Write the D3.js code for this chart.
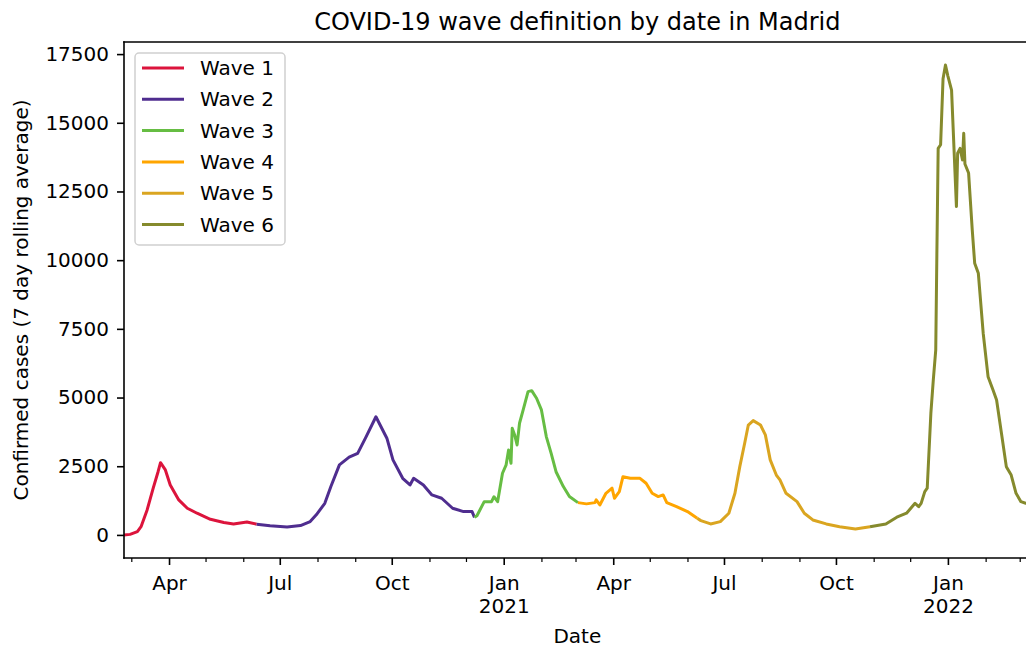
<!DOCTYPE html>
<html>
<head>
<meta charset="utf-8">
<script src="https://cdn.jsdelivr.net/npm/d3@7"></script>
<style>
  body { margin: 0; background: #fff; }
  svg { display: block; font-family: "DejaVu Sans", sans-serif; }
</style>
</head>
<body>
<svg id="chart" width="1026" height="649"></svg>
<script>
// Chart data (7 day rolling average)
const waveNames = ['Wave 1', 'Wave 2', 'Wave 3', 'Wave 4', 'Wave 5', 'Wave 6'];
const waveColors = ['#dc143c', '#4f2d8f', '#66bd43', '#ffa500', '#daa520', '#858a2d'];

const wave1 = [
    ['2020-02-24', 0], ['2020-02-29', 20], ['2020-03-06', 120], ['2020-03-09', 300],
    ['2020-03-14', 910], ['2020-03-19', 1700], ['2020-03-23', 2300], ['2020-03-25', 2630],
    ['2020-03-29', 2365], ['2020-04-02', 1820], ['2020-04-09', 1275], ['2020-04-16', 970],
    ['2020-04-24', 790], ['2020-05-05', 570], ['2020-05-16', 450], ['2020-05-24', 400],
    ['2020-06-04', 473], ['2020-06-12', 390]
];
const wave2 = [
    ['2020-06-12', 390], ['2020-06-23', 330], ['2020-07-07', 290], ['2020-07-18', 340],
    ['2020-07-26', 485], ['2020-07-31', 730], ['2020-08-07', 1150], ['2020-08-12', 1760],
    ['2020-08-19', 2550], ['2020-08-27', 2830], ['2020-09-03', 2970], ['2020-09-10', 3580],
    ['2020-09-18', 4300], ['2020-09-27', 3520], ['2020-10-02', 2730], ['2020-10-10', 2060],
    ['2020-10-16', 1820], ['2020-10-19', 2060], ['2020-10-27', 1820], ['2020-11-03', 1455],
    ['2020-11-11', 1335], ['2020-11-20', 970], ['2020-11-29', 850], ['2020-12-06', 850],
    ['2020-12-08', 640]
];
const wave3 = [
    ['2020-12-08', 640], ['2020-12-10', 700], ['2020-12-16', 1210], ['2020-12-22', 1210],
    ['2020-12-24', 1390], ['2020-12-27', 1210], ['2020-12-31', 2245], ['2021-01-03', 2550],
    ['2021-01-05', 3090], ['2021-01-07', 2610], ['2021-01-08', 3880], ['2021-01-10', 3640],
    ['2021-01-12', 3275], ['2021-01-14', 4065], ['2021-01-17', 4550], ['2021-01-21', 5215],
    ['2021-01-24', 5250], ['2021-01-28', 4975], ['2021-02-01', 4550], ['2021-02-05', 3580],
    ['2021-02-09', 2970], ['2021-02-13', 2300], ['2021-02-19', 1760], ['2021-02-24', 1395],
    ['2021-03-03', 1175]
];
const wave4 = [
    ['2021-03-03', 1175], ['2021-03-10', 1130], ['2021-03-17', 1175], ['2021-03-18', 1275],
    ['2021-03-21', 1090], ['2021-03-26', 1515], ['2021-03-31', 1700], ['2021-04-02', 1335],
    ['2021-04-06', 1575], ['2021-04-09', 2120], ['2021-04-15', 2060], ['2021-04-23', 2060],
    ['2021-04-28', 1880], ['2021-05-03', 1515], ['2021-05-08', 1395], ['2021-05-12', 1455],
    ['2021-05-15', 1175], ['2021-05-23', 1030], ['2021-06-01', 850], ['2021-06-09', 605]
];
const wave5 = [
    ['2021-06-09', 605], ['2021-06-12', 520], ['2021-06-20', 400], ['2021-06-28', 485],
    ['2021-07-05', 790], ['2021-07-10', 1515], ['2021-07-14', 2485], ['2021-07-18', 3335],
    ['2021-07-21', 4000], ['2021-07-25', 4160], ['2021-07-31', 4000], ['2021-08-04', 3640],
    ['2021-08-08', 2730], ['2021-08-13', 2180], ['2021-08-16', 2000], ['2021-08-21', 1515],
    ['2021-08-30', 1210], ['2021-09-05', 790], ['2021-09-12', 545], ['2021-09-23', 400],
    ['2021-10-04', 300], ['2021-10-17', 218], ['2021-10-29', 300]
];
const wave6 = [
    ['2021-10-29', 300], ['2021-11-11', 400], ['2021-11-20', 645], ['2021-11-28', 790],
    ['2021-12-05', 1150], ['2021-12-08', 1030], ['2021-12-10', 1150], ['2021-12-13', 1575],
    ['2021-12-15', 1700], ['2021-12-18', 4430], ['2021-12-20', 5640], ['2021-12-22', 6730],
    ['2021-12-23', 10500], ['2021-12-24', 14070], ['2021-12-26', 14200], ['2021-12-28', 16600],
    ['2021-12-30', 17100], ['2022-01-01', 16700], ['2022-01-04', 16190], ['2022-01-08', 11950],
    ['2022-01-09', 13890], ['2022-01-11', 14070], ['2022-01-13', 13650], ['2022-01-14', 14620],
    ['2022-01-15', 13500], ['2022-01-18', 13170], ['2022-01-21', 11100], ['2022-01-23', 9890],
    ['2022-01-26', 9520], ['2022-01-30', 7340], ['2022-02-03', 5760], ['2022-02-07', 5280],
    ['2022-02-10', 4910], ['2022-02-14', 3700], ['2022-02-18', 2485], ['2022-02-22', 2180],
    ['2022-02-26', 1515], ['2022-03-02', 1210], ['2022-03-06', 1150], ['2022-03-10', 1130]
];
const waves = [wave1, wave2, wave3, wave4, wave5, wave6];

// Axis ticks and ranges
const yTicks = [0, 2500, 5000, 7500, 10000, 12500, 15000, 17500];
const yDomain = [-840, 17940];
const xDomain = ['2020-02-24', '2022-03-10'];
const xMajorTicks = ['2020-04-01', '2020-07-01', '2020-10-01', '2021-01-01',
    '2021-04-01', '2021-07-01', '2021-10-01', '2022-01-01'];
const xMinorTicks = ['2020-03-01', '2020-05-01', '2020-06-01', '2020-08-01', '2020-09-01',
    '2020-11-01', '2020-12-01', '2021-02-01', '2021-03-01', '2021-05-01', '2021-06-01',
    '2021-08-01', '2021-09-01', '2021-11-01', '2021-12-01', '2022-02-01', '2022-03-01'];

const parseDate = d3.utcParse('%Y-%m-%d');

// Layout
const margin = { left: 124, top: 42, bottom: 558 };
const plotRight = 124 + 745 * 1.217;
const fontSize = 20;

const svg = d3.select('#chart');

const x = d3.scaleUtc()
    .domain(xDomain.map(parseDate))
    .range([margin.left, plotRight]);

const y = d3.scaleLinear()
    .domain(yDomain)
    .range([margin.bottom, margin.top]);

svg.append('defs').append('clipPath')
    .attr('id', 'plot-clip')
    .append('rect')
    .attr('x', margin.left)
    .attr('y', margin.top)
    .attr('width', plotRight - margin.left)
    .attr('height', margin.bottom - margin.top);

// Wave lines
const line = d3.line()
    .x(d => x(parseDate(d[0])))
    .y(d => y(d[1]));

svg.append('g')
    .attr('clip-path', 'url(#plot-clip)')
    .selectAll('path')
    .data(waves)
    .enter().append('path')
    .attr('d', line)
    .attr('fill', 'none')
    .attr('stroke', (d, i) => waveColors[i])
    .attr('stroke-width', 3)
    .attr('stroke-linejoin', 'round');

// Axes
const xAxis = svg.append('g')
    .attr('transform', `translate(0,${margin.bottom})`)
    .call(d3.axisBottom(x)
        .tickValues(xMajorTicks.map(parseDate))
        .tickSize(7)
        .tickPadding(11)
        .tickFormat(d3.utcFormat('%b')));

xAxis.selectAll('.tick')
    .filter(d => d.getUTCMonth() === 0)
    .select('text')
    .append('tspan')
    .attr('x', 0)
    .attr('dy', '1.15em')
    .text(d => d.getUTCFullYear());

svg.append('g')
    .attr('transform', `translate(0,${margin.bottom})`)
    .call(d3.axisBottom(x)
        .tickValues(xMinorTicks.map(parseDate))
        .tickSize(4)
        .tickFormat(''))
    .selectAll('line').attr('stroke-width', 1.2);

const yAxis = svg.append('g')
    .attr('transform', `translate(${margin.left},0)`)
    .call(d3.axisLeft(y)
        .tickValues(yTicks)
        .tickSize(7)
        .tickPadding(8)
        .tickFormat(d3.format('d')));

svg.selectAll('.domain').remove();
svg.selectAll('.tick line').filter(function () {
    return !this.getAttribute('stroke-width');
}).attr('stroke-width', 1.6);
svg.selectAll('.tick text')
    .attr('font-size', fontSize)
    .attr('font-family', '"DejaVu Sans", sans-serif')
    .attr('fill', '#000');
svg.selectAll('.tick line').attr('stroke', '#000');

// Spines (the right one falls just outside the picture)
const spines = svg.append('g')
    .attr('stroke', '#000')
    .attr('stroke-width', 1.6)
    .attr('stroke-linecap', 'square');
spines.append('line')
    .attr('x1', margin.left).attr('x2', margin.left)
    .attr('y1', margin.top).attr('y2', margin.bottom);
spines.append('line')
    .attr('x1', margin.left).attr('x2', plotRight)
    .attr('y1', margin.bottom).attr('y2', margin.bottom);
spines.append('line')
    .attr('x1', margin.left).attr('x2', plotRight)
    .attr('y1', margin.top).attr('y2', margin.top);
spines.append('line')
    .attr('x1', plotRight).attr('x2', plotRight)
    .attr('y1', margin.top).attr('y2', margin.bottom);

// Titles
const centerX = (margin.left + plotRight) / 2;
svg.append('text')
    .attr('x', centerX)
    .attr('y', 30)
    .attr('text-anchor', 'middle')
    .attr('font-size', 24)
    .text('COVID-19 wave definition by date in Madrid');

svg.append('text')
    .attr('x', centerX)
    .attr('y', 643)
    .attr('text-anchor', 'middle')
    .attr('font-size', fontSize)
    .text('Date');

svg.append('text')
    .attr('transform', `translate(28,${(margin.top + margin.bottom) / 2}) rotate(-90)`)
    .attr('text-anchor', 'middle')
    .attr('font-size', fontSize)
    .text('Confirmed cases (7 day rolling average)');

// Legend
const legend = svg.append('g').attr('transform', 'translate(135,53)');
legend.append('rect')
    .attr('width', 150)
    .attr('height', 192)
    .attr('rx', 4)
    .attr('fill', '#fff')
    .attr('fill-opacity', 0.8)
    .attr('stroke', '#d0d0d0')
    .attr('stroke-width', 1.5);

const items = legend.selectAll('.item')
    .data(waveNames)
    .enter().append('g')
    .attr('class', 'item')
    .attr('transform', (d, i) => `translate(0,${15 + i * 31.3})`);
items.append('line')
    .attr('x1', 7).attr('x2', 49)
    .attr('stroke', (d, i) => waveColors[i])
    .attr('stroke-width', 3);
items.append('text')
    .attr('x', 65)
    .attr('dy', '0.35em')
    .attr('font-size', fontSize)
    .text(d => d);
</script>
</body>
</html>
